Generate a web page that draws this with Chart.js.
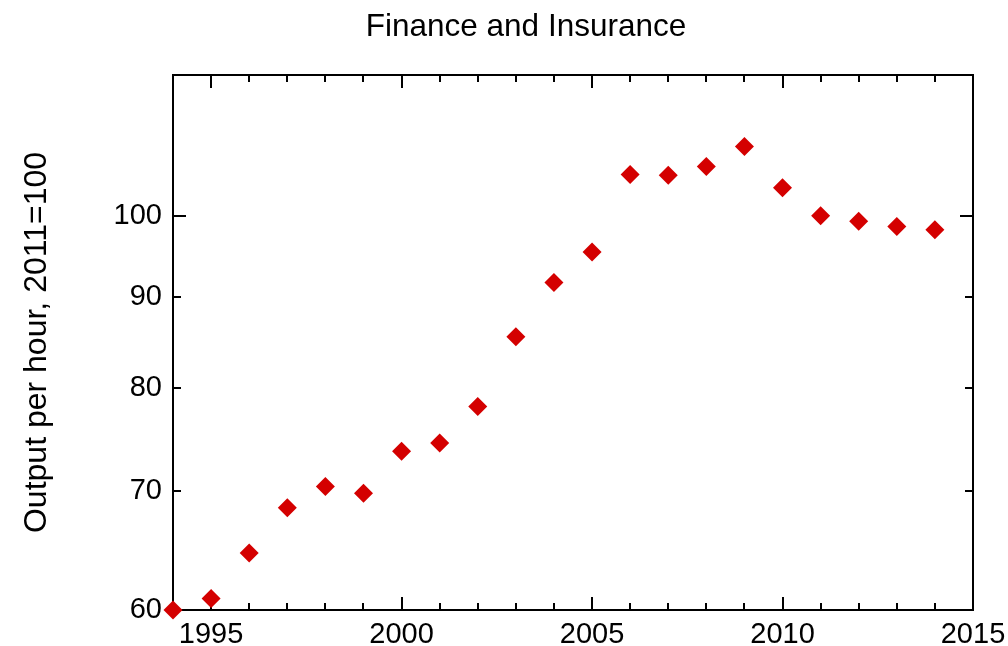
<!DOCTYPE html>
<html>
<head>
<meta charset="utf-8">
<script src="https://cdn.jsdelivr.net/npm/chart.js@4"></script>
<style>
  html, body { margin: 0; padding: 0; background: #fff; }
  #wrap { width: 1008px; height: 646px; position: relative; }
</style>
</head>
<body>
<div id="wrap"><canvas id="c" width="1008" height="646"></canvas></div>
<script>
const years = [1994,1995,1996,1997,1998,1999,2000,2001,2002,2003,2004,2005,2006,2007,2008,2009,2010,2011,2012,2013,2014];
const outputPerHour = [60.0,60.9,64.6,68.5,70.4,69.8,73.7,74.5,78.1,85.5,91.7,95.4,105.5,105.4,106.6,109.4,103.7,100.0,99.3,98.6,98.2];
const xTickYears = [1994,1995,1996,1997,1998,1999,2000,2001,2002,2003,2004,2005,2006,2007,2008,2009,2010,2011,2012,2013,2014,2015];
const xLabelYears = [1995,2000,2005,2010,2015];
const yTickValues = [60,70,80,90,100];
const yMajorValues = [100];
const chartTitle = 'Finance and Insurance';

const FONT = '"Liberation Sans", Arial, Helvetica, sans-serif';

const boxTicks = {
  id: 'boxTicks',
  beforeDatasetsDraw(chart) {
    const ctx = chart.ctx, a = chart.chartArea;
    const xs = chart.scales.x, ys = chart.scales.y;
    ctx.save();
    ctx.strokeStyle = '#000';
    ctx.lineWidth = 2;
    ctx.strokeRect(a.left, a.top, a.right - a.left, a.bottom - a.top);
    ctx.beginPath();
    xTickYears.forEach(v => {
      const px = Math.round(xs.getPixelForValue(v));
      const len = xLabelYears.includes(v) ? 13 : 7;
      ctx.moveTo(px, a.bottom); ctx.lineTo(px, a.bottom - len);
      ctx.moveTo(px, a.top); ctx.lineTo(px, a.top + len);
    });
    yTickValues.forEach(v => {
      const py = Math.round(ys.getPixelForValue(v));
      const len = yMajorValues.includes(v) ? 13 : 8;
      ctx.moveTo(a.left, py); ctx.lineTo(a.left + len, py);
      ctx.moveTo(a.right, py); ctx.lineTo(a.right - len, py);
    });
    ctx.stroke();
    // title
    ctx.fillStyle = '#000';
    ctx.font = '31.5px ' + FONT;
    ctx.textAlign = 'center';
    ctx.textBaseline = 'middle';
    ctx.fillText(chartTitle, 526, 27);
    ctx.restore();
  }
};

new Chart(document.getElementById('c'), {
  type: 'scatter',
  data: {
    datasets: [{
      data: years.map((y, i) => ({x: y, y: outputPerHour[i]})),
      pointStyle: 'rectRot',
      pointRadius: 9.5,
      pointHoverRadius: 9.5,
      backgroundColor: 'rgb(212,0,0)',
      borderWidth: 0,
      clip: false
    }]
  },
  options: {
    responsive: false,
    animation: false,
    events: [],
    layout: { padding: { left: 0, right: 35, top: 75, bottom: 0 } },
    plugins: {
      legend: { display: false },
      tooltip: { enabled: false },
      title: { display: false }
    },
    scales: {
      x: {
        type: 'linear',
        min: 1994, max: 2015,
        grid: { display: false, drawTicks: false },
        border: { display: false },
        afterBuildTicks: s => { s.ticks = xTickYears.map(v => ({value: v})); },
        afterFit: s => { s.height = 36; s.paddingLeft = 0; s.paddingRight = 0; },
        ticks: {
          autoSkip: false, maxRotation: 0, padding: 8,
          color: '#000',
          font: { family: FONT, size: 29 },
          callback: v => xLabelYears.includes(v) ? String(v) : ''
        }
      },
      y: {
        type: 'logarithmic',
        min: 60, max: 120,
        grid: { display: false, drawTicks: false },
        border: { display: false },
        afterBuildTicks: s => { s.ticks = yTickValues.map(v => ({value: v})); },
        afterFit: s => { s.width = 173; s.paddingTop = 0; s.paddingBottom = 0; },
        title: {
          display: true,
          text: 'Output per hour, 2011=100',
          color: '#000',
          font: { family: FONT, size: 32, weight: 'normal' },
          padding: { top: 18, bottom: 0 }
        },
        ticks: {
          autoSkip: false, padding: 11,
          color: '#000',
          font: { family: FONT, size: 29 },
          callback: v => String(v)
        }
      }
    }
  },
  plugins: [boxTicks]
});
</script>
</body>
</html>
